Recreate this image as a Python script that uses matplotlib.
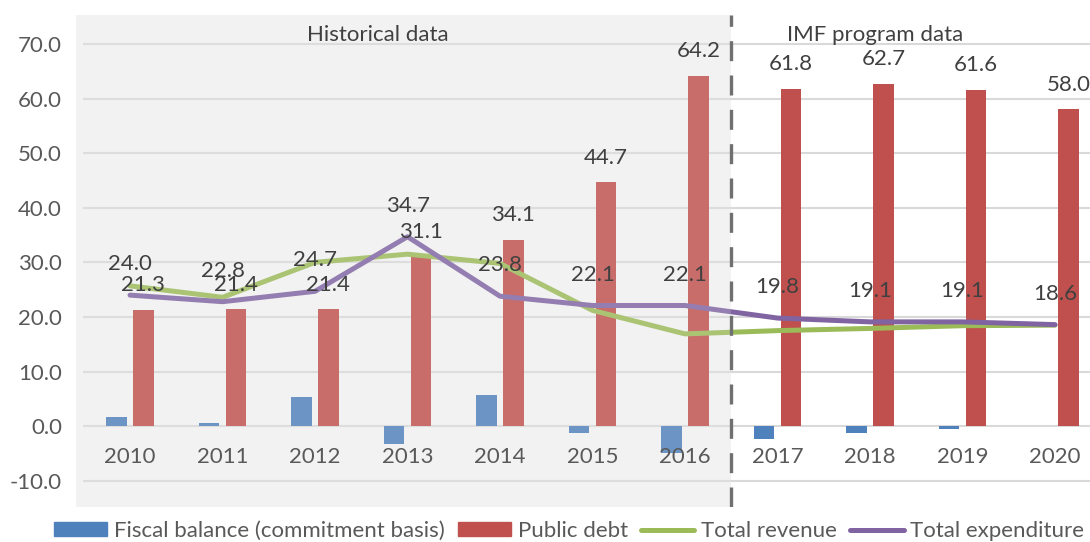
import matplotlib
matplotlib.use("Agg")
import matplotlib.pyplot as plt
import numpy as np
from matplotlib.patches import Patch
from matplotlib.lines import Line2D

# data (% of GDP)
years = ['2010', '2011', '2012', '2013', '2014', '2015', '2016',
         '2017', '2018', '2019', '2020']
fiscal_balance = [1.7, 0.5, 5.4, -3.2, 5.8, -1.2, -5.0, -2.4, -1.3, -0.6, 0.0]
public_debt = [21.3, 21.4, 21.4, 31.1, 34.1, 44.7, 64.2, 61.8, 62.7, 61.6, 58.0]
total_revenue = [25.7, 23.6, 30.0, 31.5, 29.8, 21.2, 16.9, 17.5, 17.9, 18.4, 18.5]
total_expenditure = [24.0, 22.8, 24.7, 34.7, 23.8, 22.1, 22.1, 19.8, 19.1, 19.1, 18.6]
y_ticks = [-10, 0, 10, 20, 30, 40, 50, 60, 70]
n_hist = 7  # 2010-2016 historical, rest IMF program

plt.rcParams['font.family'] = ['Lato', 'DejaVu Sans']

c_blue = '#4F81BD'
c_red = '#C0504D'
c_green = '#9BBB59'
c_purple = '#8064A2'
c_text = '#595959'
c_grid = '#D9D9D9'

fig = plt.figure(figsize=(10.9, 5.42), dpi=100)
ax = fig.add_axes([76 / 1090, 35 / 542, 1014 / 1090, 492 / 542])
ax.set_xlim(-0.584, 10.378)
ax.set_ylim(-14.8, 75.3)

x = np.arange(len(years))
split = n_hist - 0.5

# shaded historical box
ax.axvspan(-0.584, split, color='#F2F2F2', zorder=0, lw=0)

# gridlines
ax.hlines(y_ticks, -0.51, 10.378, color=c_grid, lw=1.5, zorder=1)

# bars
w = 0.22
ax.bar(x - 0.145, fiscal_balance, width=w, color=c_blue, zorder=2)
ax.bar(x + 0.145, public_debt, width=w, color=c_red, zorder=2)

# lines
ax.plot(x, total_revenue, color=c_green, lw=3.6, zorder=3,
        solid_joinstyle='round', solid_capstyle='round')
ax.plot(x, total_expenditure, color=c_purple, lw=3.6, zorder=3,
        solid_joinstyle='round', solid_capstyle='round')

# historical overlay (washes out the bars/lines a bit)
ax.axvspan(-0.584, split, color='#F2F2F2', alpha=0.18, zorder=4, lw=0)

# data labels
for i in range(len(years)):
    ax.annotate(f'{public_debt[i]:.1f}', (x[i] + 0.145, public_debt[i]),
                xytext=(0, 17.7), textcoords='offset points',
                ha='center', va='center', fontsize=16, color='#404040', zorder=5)
    ax.annotate(f'{total_expenditure[i]:.1f}', (x[i], total_expenditure[i]),
                xytext=(0, 22.3), textcoords='offset points',
                ha='center', va='center', fontsize=16, color='#404040', zorder=5)

# category labels sit inside the plot
for i, yr in enumerate(years):
    ax.text(x[i], -5.7, yr, ha='center', va='center', fontsize=16,
            color=c_text, zorder=5)

# divider
ax.axvline(split, color='#707070', lw=2.4, dashes=(6, 4.3), zorder=6)

ax.text(0.298, 0.96, 'Historical data', transform=ax.transAxes,
        ha='center', va='center', fontsize=16, color='#404040', zorder=5)
ax.text(0.788, 0.96, 'IMF program data', transform=ax.transAxes,
        ha='center', va='center', fontsize=16, color='#404040', zorder=5)

ax.set_yticks(y_ticks)
ax.set_yticklabels([f'{v:.1f}' for v in y_ticks], fontsize=16, color=c_text)
ax.tick_params(axis='y', length=0, pad=10)
ax.set_xticks([])
for s in ax.spines.values():
    s.set_visible(False)
ax.patch.set_alpha(0)

handles = [
    Patch(color=c_blue, label='Fiscal balance (commitment basis)'),
    Patch(color=c_red, label='Public debt'),
    Line2D([], [], color=c_green, lw=3.6, solid_capstyle='round', label='Total revenue'),
    Line2D([], [], color=c_purple, lw=3.6, solid_capstyle='round', label='Total expenditure'),
]
fig.legend(handles=handles, loc='center', bbox_to_anchor=(0.522, 0.02),
           ncol=4, frameon=False, fontsize=16, handlelength=2.4,
           handleheight=0.6, handletextpad=0.3, columnspacing=0.6,
           labelcolor=c_text)

fig.savefig('out.png', dpi=100)
